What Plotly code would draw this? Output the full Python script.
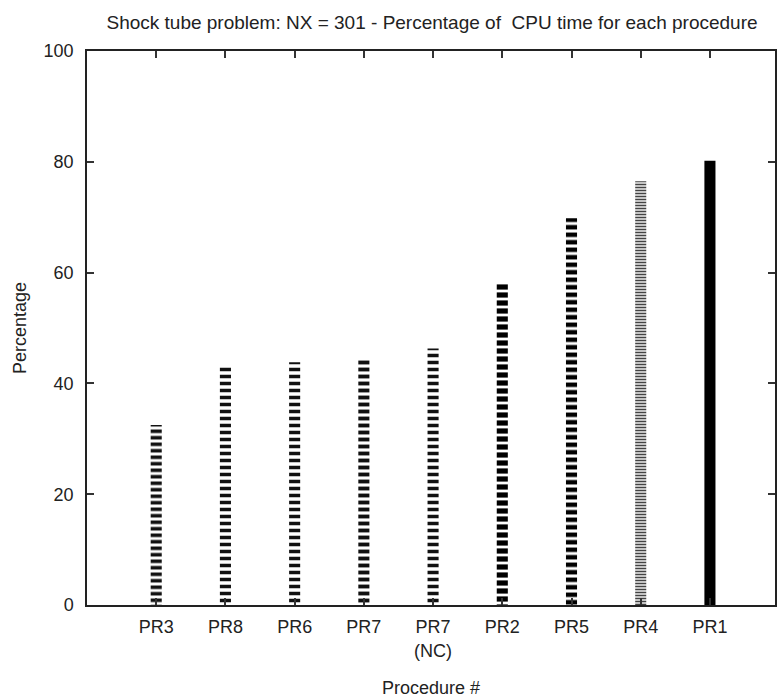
import plotly.graph_objects as go

categories = ["PR3", "PR8", "PR6", "PR7", "PR7<br>(NC)", "PR2", "PR5", "PR4", "PR1"]
percentages = [32.5, 43.0, 43.8, 44.6, 46.3, 58.2, 69.8, 76.5, 80.2]
y_ticks = [0, 20, 40, 60, 80, 100]

# styling per bar (hatch density)
pattern_sizes = [6.5, 7, 7, 7, 7, 8, 7.5, 3, 0]
pattern_solid = [0.55, 0.5, 0.5, 0.55, 0.5, 0.65, 0.6, 0.55, 1]
pattern_fg = ["#111", "#111", "#111", "#111", "#111", "#000", "#000", "#444", "#000"]

font = "Liberation Sans, Arial, sans-serif"

fig = go.Figure()
for i, (cat, val) in enumerate(zip(categories, percentages)):
    if pattern_sizes[i] == 0:
        marker = dict(color="black", line=dict(width=0))
    else:
        marker = dict(color="white", line=dict(width=0),
                      pattern=dict(shape="-", size=pattern_sizes[i], solidity=pattern_solid[i],
                                   fgcolor=pattern_fg[i], fgopacity=1, fillmode="overlay"))
    fig.add_trace(go.Bar(x=[i], y=[val], width=0.16, marker=marker, showlegend=False))

fig.update_layout(
    width=777, height=698,
    margin=dict(l=87, r=0, t=51, b=93),
    paper_bgcolor="white", plot_bgcolor="white",
    font=dict(family=font, size=18, color="#222"),
    title=dict(text="Shock tube problem: NX = 301 - Percentage of  CPU time for each procedure",
               x=0.556, xanchor="center", y=0.968, yanchor="middle",
               font=dict(size=19, color="#222")),
    barmode="overlay",
)
fig.update_xaxes(
    range=[-1, 8.94],
    tickmode="array", tickvals=list(range(len(categories))), ticktext=categories,
    ticks="inside", ticklen=7, tickcolor="#333", tickwidth=1.5,
    showline=True, linecolor="#222", linewidth=1.5, mirror="ticks",
    showgrid=False, zeroline=False,
    title=dict(text="Procedure #", standoff=24, font=dict(size=18)),
    tickfont=dict(size=18), ticklabelstandoff=5,
)
fig.update_yaxes(
    range=[0, 100],
    tickmode="array", tickvals=y_ticks,
    ticks="inside", ticklen=7, tickcolor="#333", tickwidth=1.5,
    showline=True, linecolor="#222", linewidth=1.5, mirror="ticks",
    showgrid=False, zeroline=False,
    title=dict(text="Percentage", standoff=12, font=dict(size=18)),
    tickfont=dict(size=18), ticklabelstandoff=8,
)

fig.write_html("out.html")
